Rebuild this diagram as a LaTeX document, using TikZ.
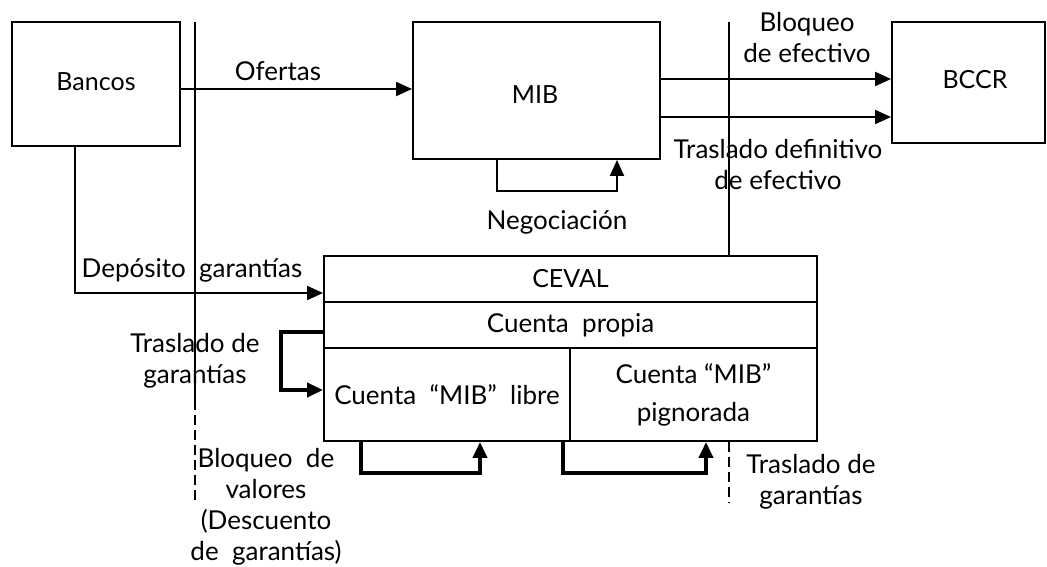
\documentclass[tikz,border=0pt]{standalone}
\usepackage{fontspec}
\setmainfont{Lato}
\usetikzlibrary{arrows.meta,calc}
\begin{document}
\begin{tikzpicture}[x=1pt,y=-1pt,
  box/.style={draw, line width=1.9pt, inner sep=0pt, align=center, font=\fontsize{26}{38}\selectfont},
  sbox/.style={box, font=\fontsize{25}{28}\selectfont},
  stext/.style={inner sep=0pt, font=\fontsize{25}{28}\selectfont},
  lbl/.style={inner sep=0pt, align=center, font=\fontsize{26}{31}\selectfont},
  ln/.style={line width=1.9pt},
  thk/.style={line width=4pt},
  arr/.style={-{Triangle[length=16pt,width=14pt]}},
  dsh/.style={line width=1.9pt, dash pattern=on 10pt off 5pt},
  ]
\useasboundingbox (0,0) rectangle (1047,567);
% boxes
\node[sbox, minimum width=168pt, minimum height=124pt] (bancos) at (96,84) {};
\node[stext] (bancost) at (96,82) {Bancos};
\node[sbox, minimum width=247pt, minimum height=137pt] (mib) at (536.5,90.5) {};
\node[stext] (mibt) at (535,95) {MIB};
\node[sbox, minimum width=153pt, minimum height=121pt] (bccr) at (968.5,82.5) {};
\node[stext] (bccrt) at (975,80) {BCCR};
\node[sbox, minimum width=493pt, minimum height=46pt] (ceval) at (570.5,279) {CEVAL};
\node[box, minimum width=493pt, minimum height=46pt] (propia) at (570.5,325) {Cuenta\ \ propia};
\node[box, minimum width=246pt, minimum height=93pt] (libre) at (447,394.5) {Cuenta \ “MIB” \ libre};
\node[box, minimum width=247pt, minimum height=93pt] (pign) at (693.5,394.5) {Cuenta “MIB”\\pignorada};
% coordinates
\coordinate (v1top) at (195,22);
\coordinate (v1mid) at (195,400);
\coordinate (v1bot) at (195,502);
\coordinate (v2top) at (729,22);
\coordinate (v2bot) at (729,502);
\coordinate (yo) at (0,89);
\coordinate (yb) at (0,79);
\coordinate (yt) at (0,117);
\coordinate (n1) at (497,191);
\coordinate (n2) at (617,191);
\coordinate (d1) at (75,293);
\coordinate (t1) at (281,332);
\coordinate (t2) at (281,390);
\coordinate (b1) at (361,473);
\coordinate (b2) at (480,473);
\coordinate (c1) at (563,473);
\coordinate (c2) at (706,473);
% vertical separators
\draw[ln] (v1top) -- (v1mid);
\draw[dsh] (v1mid) -- (v1bot);
\draw[ln] (v2top) -- (ceval.north -| v2top);
\draw[dsh] (pign.south -| v2top) -- (v2bot);
% connectors
\draw[ln,arr] (bancos.east |- yo) -- (mib.west |- yo);
\draw[ln,arr] (mib.east |- yb) -- (bccr.west |- yb);
\draw[ln,arr] (mib.east |- yt) -- (bccr.west |- yt);
\draw[ln,arr] (mib.south -| n1) -- (n1) -- (n2) -- (mib.south -| n2);
\draw[ln,arr] (bancos.south -| d1) -- (d1) -- (ceval.west |- d1);
\draw[thk,arr] (propia.west |- t1) -- (t1) -- (t2) -- (libre.west |- t2);
\draw[thk,arr] (libre.south -| b1) -- (b1) -- (b2) -- (libre.south -| b2);
\draw[thk,arr] (libre.south -| c1) -- (c1) -- (c2) -- (pign.south -| c2);
% labels
\node[lbl] (lofertas) at (278,71) {Ofertas};
\node[lbl] (lbloq) at (807,38) {Bloqueo\\de efectivo};
\node[lbl] (ltras) at (778,165) {Traslado definitivo\\de efectivo};
\node[lbl] (lneg) at (557,222) {Negociación};
\node[lbl] (ldep) at (192,270) {Depósito\ \ garantías};
\node[lbl] (ltg1) at (195,361) {Traslado de\\garantías};
\node[lbl] (lbv) at (266,507) {Bloqueo\ \ de\\valores\\(Descuento\\de\ \ garantías)};
\node[lbl] (ltg2) at (811,482) {Traslado de\\garantías};
\end{tikzpicture}
\end{document}
